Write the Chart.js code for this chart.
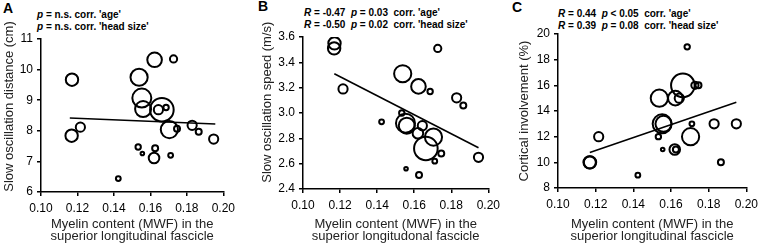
<!DOCTYPE html>
<html>
<head>
<meta charset="utf-8">
<script src="https://cdn.jsdelivr.net/npm/chart.js@4/dist/chart.umd.min.js"></script>
<style>
  html, body { margin: 0; padding: 0; background: #fff; }
  body { width: 763px; height: 245px; position: relative; overflow: hidden; font-family: "Liberation Sans", Arial, sans-serif; }
  .panel { position: absolute; top: 0; }
  .letter { position: absolute; font-weight: bold; font-size: 14px; color: #000; }
  .note { position: absolute; font-weight: bold; font-size: 10px; color: #000; white-space: pre; line-height: 12px; }
  .note i { font-style: italic; }
</style>
</head>
<body>
<div class="letter" style="left:3px;top:0px">A</div>
<div class="letter" style="left:258px;top:-2px">B</div>
<div class="letter" style="left:512px;top:-1px">C</div>
<div class="note" style="left:37px;top:9px"><i>p</i> = n.s. corr. 'age'
<i>p</i> = n.s. corr. 'head size'</div>
<div class="note" style="left:304px;top:7px"><i>R</i> = -0.47  <i>p</i> = 0.03  corr. 'age'
<i>R</i> = -0.50  <i>p</i> = 0.02  corr. 'head size'</div>
<div class="note" style="left:558px;top:8px"><i>R</i> = 0.44  <i>p</i> &lt; 0.05  corr. 'age'
<i>R</i> = 0.39  <i>p</i> = 0.08  corr. 'head size'</div>

<div class="panel" style="left:0px"><canvas id="chartA" width="240" height="248"></canvas></div>
<div class="panel" style="left:258px"><canvas id="chartB" width="247" height="248"></canvas></div>
<div class="panel" style="left:515px"><canvas id="chartC" width="248" height="248"></canvas></div>

<script>
// --- DATA (one entry per subject, same order in every panel) ---
const myelin = [0.1170, 0.1168, 0.1216, 0.1424, 0.1533, 0.1556, 0.1538, 0.1553, 0.1560, 0.1623, 0.1626,
                0.1620, 0.1644, 0.1663, 0.1686, 0.1704, 0.1727, 0.1711, 0.1746, 0.1829, 0.1865, 0.1947];
const bubbleSize = [6.2, 6.2, 4.6, 2.4, 2.7, 1.8, 8.6, 9.5, 8.0, 7.3, 3.0,
                    5.3, 4.6, 11.8, 2.7, 8.6, 3.6, 2.4, 3.0, 4.6, 3.0, 4.6];
const soDistance = [9.67, 7.84, 8.12, 6.44, 7.47, 7.26, 9.75, 9.07, 8.71, 10.32, 7.43,
                    7.11, 8.69, 8.69, 8.76, 8.04, 10.35, 7.20, 8.07, 8.18, 7.97, 7.73];
const soSpeed = [3.55, 3.51, 3.19, 2.93, 3.00, 2.56, 3.31, 2.92, 2.90, 3.21, 2.51,
                 2.84, 2.90, 2.72, 3.17, 2.81, 3.51, 2.62, 2.68, 3.12, 3.06, 2.65];
const corticalInv = [10, 10, 12, 9, 12, 11, 15, 13, 13, 15, 11,
                     11, 15, 16, 19, 12, 16, 13, 16, 13, 10, 13];

// regression line end points [x0, x1] / [y0, y1]
const fitX = [0.1158, 0.1956];
const fitA = [8.42, 8.22];
const fitBx = [0.1169, 0.1947];
const fitB = [3.31, 2.725];
const fitC = [10.77, 14.68];

const xTicks = [0.10, 0.12, 0.14, 0.16, 0.18, 0.20];

const FONT = "'Liberation Sans', Arial, sans-serif";

const makeChart = (id, cfg) => {
    const points = myelin.map((x, i) => ({ x, y: cfg.values[i], r: bubbleSize[i] }));
    const line = cfg.fitX.map((x, i) => ({ x, y: cfg.fitY[i] }));
    const axisGrid = { display: true, drawOnChartArea: false, drawTicks: true, tickLength: 4, color: '#000', lineWidth: 1.5 };

    return new Chart(document.getElementById(id), {
        type: 'bubble',
        data: {
            datasets: [
                {
                    type: 'line',
                    data: line,
                    borderColor: '#000',
                    borderWidth: 1.6,
                    pointRadius: 0,
                    fill: false
                },
                {
                    data: points,
                    backgroundColor: 'rgba(0,0,0,0)',
                    borderColor: '#000',
                    borderWidth: 2,
                    hoverRadius: 0
                }
            ]
        },
        options: {
            responsive: false,
            animation: false,
            events: [],
            layout: { padding: { top: cfg.top, right: cfg.right, left: 0, bottom: 0 } },
            plugins: { legend: { display: false }, tooltip: { enabled: false } },
            scales: {
                x: {
                    type: 'linear',
                    min: 0.10, max: 0.20,
                    afterBuildTicks: (s) => { s.ticks = xTicks.map(v => ({ value: v })); },
                    afterFit: (s) => { s.height = cfg.xh; },
                    ticks: { color: '#000', font: { family: FONT, size: 12 }, padding: 5, maxRotation: 0,
                             callback: (v) => v.toFixed(2) },
                    grid: axisGrid,
                    border: { color: '#000', width: 1.5 },
                    title: { display: true, text: ['Myelin content (MWF) in the', cfg.xTitle2],
                             color: '#222', font: { family: FONT, size: 13, lineHeight: 0.96 }, padding: { top: 0, bottom: 5 } }
                },
                y: {
                    type: 'linear',
                    min: cfg.min, max: cfg.max,
                    afterFit: (s) => { s.width = cfg.yw; },
                    ticks: { stepSize: cfg.step, color: '#000', font: { family: FONT, size: 12 }, padding: 4,
                             callback: (v) => cfg.fmt(v) },
                    grid: axisGrid,
                    border: { color: '#000', width: 1.5 },
                    title: { display: true, text: cfg.yTitle, color: '#222',
                             font: { family: FONT, size: 13 }, padding: { top: 2, bottom: 0 } }
                }
            }
        }
    });
};

// leading spaces nudge the rotated y titles upward, as in the figure
makeChart('chartA', {
    values: soDistance, fitX: fitX, fitY: fitA,
    min: 6, max: 11, step: 1, fmt: v => String(v),
    yTitle: '     Slow oscillation distance (cm)', xTitle2: 'superior longitudinal fascicle',
    top: 39, right: 8, yw: 41, xh: 56
});

makeChart('chartB', {
    values: soSpeed, fitX: fitBx, fitY: fitB,
    min: 2.4, max: 3.6, step: 0.2, fmt: v => v.toFixed(1),
    yTitle: '      Slow oscillation speed (m/s)', xTitle2: 'superior longitudonal fascicle',
    top: 37, right: 10, yw: 45, xh: 59
});

makeChart('chartC', {
    values: corticalInv, fitX: fitBx, fitY: fitC,
    min: 8, max: 20, step: 2, fmt: v => String(v),
    yTitle: 'Cortical involvement (%)', xTitle2: 'superior longitudinal fascicle',
    top: 34, right: 11, yw: 43, xh: 60
});
</script>
</body>
</html>
